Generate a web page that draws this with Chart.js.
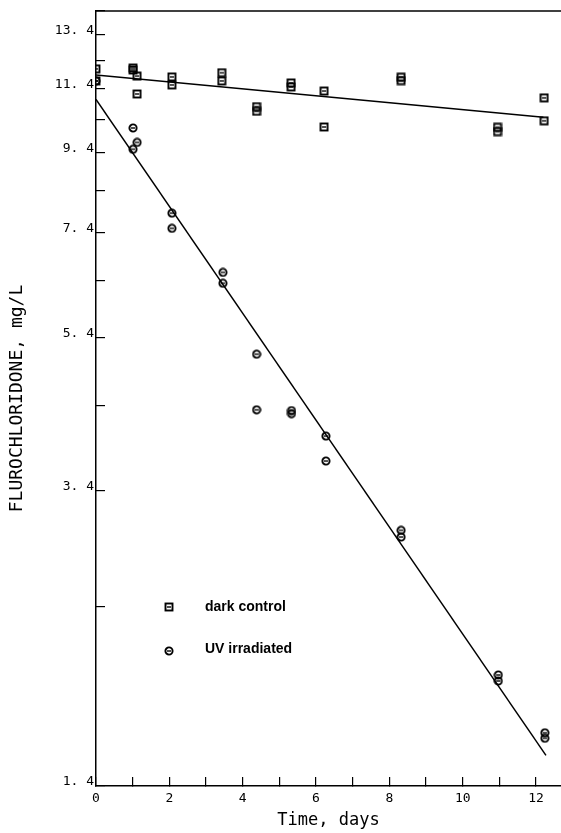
<!DOCTYPE html>
<html>
<head>
<meta charset="utf-8">
<title>Flurochloridone</title>
<script src="https://cdn.jsdelivr.net/npm/chart.js@4.4.0/dist/chart.umd.min.js"></script>
<style>
  html, body { margin: 0; padding: 0; background: #fff; }
  #wrap { width: 561px; height: 833px; }
</style>
</head>
<body>
<div id="wrap"><canvas id="chart"></canvas></div>
<script>
// values: time (days) and concentration (mg/L)
const darkDays = [0, 0, 1.01, 1.01, 1.12, 1.12, 2.07, 2.07, 3.43, 3.43, 4.38, 4.38, 5.32, 5.32, 6.22, 6.22, 8.32, 8.32, 10.95, 10.95, 12.22, 12.22];
const darkValues = [12.1, 11.67, 12.13, 12.06, 11.84, 11.22, 11.81, 11.53, 11.96, 11.67, 10.8, 10.65, 11.6, 11.46, 11.32, 10.16, 11.8, 11.68, 10.15, 10.02, 11.09, 10.35];
const uvDays = [0, 1.01, 1.01, 1.12, 2.07, 2.07, 3.46, 3.46, 4.38, 4.38, 5.33, 5.33, 6.27, 6.27, 8.32, 8.32, 10.97, 10.97, 12.24, 12.24];
const uvValues = [11.67, 10.13, 9.5, 9.7, 7.84, 7.49, 6.56, 6.35, 5.13, 4.34, 4.33, 4.29, 4.01, 3.72, 3.02, 2.96, 1.955, 1.92, 1.643, 1.616];

// fitted first-order lines (end points)
const darkFitDays = [0, 12.2];
const darkFitValues = [11.88, 10.46];
const uvFitDays = [0, 12.27];
const uvFitValues = [11.04, 1.535];

const xTickValues = [0, 1, 2, 3, 4, 5, 6, 7, 8, 9, 10, 11, 12];
const xTickLabels = ['0', '', '2', '', '4', '', '6', '', '8', '', '10', '', '12'];
const yTickValues = [1.4, 2.4, 3.4, 4.4, 5.4, 6.4, 7.4, 8.4, 9.4, 10.4, 11.4, 12.4, 13.4, 14.4];
const yTickLabels = ['1. 4', '', '3. 4', '', '5. 4', '', '7. 4', '', '9. 4', '', '11. 4', '', '13. 4', ''];

const legendNames = ['dark control', 'UV irradiated'];

function zip(xs, ys) {
  return xs.map((x, i) => ({ x: x, y: ys[i] }));
}

// little plotter style symbols
function marker(kind) {
  const c = document.createElement('canvas');
  c.width = 10; c.height = 10;
  const g = c.getContext('2d');
  g.strokeStyle = '#000';
  g.lineWidth = 1.9;
  if (kind === 'square') {
    g.strokeRect(1.5, 1.5, 7, 7);
  } else {
    g.beginPath();
    g.arc(5, 5, 3.6, 0, Math.PI * 2);
    g.stroke();
  }
  g.lineWidth = 1.4;
  g.beginPath();
  g.moveTo(3, 5); g.lineTo(7, 5);
  g.stroke();
  return c;
}
const squareMark = marker('square');
const circleMark = marker('circle');

const frame = {
  id: 'frame',
  beforeDraw(chart) {
    const ctx = chart.ctx;
    ctx.save();
    ctx.fillStyle = '#fff';
    ctx.fillRect(0, 0, chart.width, chart.height);
    ctx.restore();
  },
  afterDraw(chart) {
    const ctx = chart.ctx;
    const a = chart.chartArea;
    ctx.save();
    // top border
    ctx.strokeStyle = '#000';
    ctx.lineWidth = 1.5;
    ctx.beginPath();
    ctx.moveTo(a.left, a.top);
    ctx.lineTo(a.right, a.top);
    ctx.stroke();
    // legend inside the plot
    const marks = [squareMark, circleMark];
    const rows = [607, 651];
    ctx.fillStyle = '#000';
    ctx.font = 'bold 14px "Liberation Sans", Arial, sans-serif';
    ctx.textBaseline = 'middle';
    legendNames.forEach((name, i) => {
      ctx.drawImage(marks[i], a.left + 73 - 5, rows[i] - 5);
      ctx.fillText(name, a.left + 109, rows[i] - (i ? 2 : 0));
    });
    ctx.restore();
  }
};

const ctx = document.getElementById('chart').getContext('2d');
new Chart(ctx, {
  type: 'scatter',
  data: {
    datasets: [
      {
        label: legendNames[0],
        data: zip(darkDays, darkValues),
        pointStyle: squareMark,
        pointRadius: 5,
        order: 1
      },
      {
        label: legendNames[1],
        data: zip(uvDays, uvValues),
        pointStyle: circleMark,
        pointRadius: 5,
        order: 1
      },
      {
        label: 'dark fit',
        data: zip(darkFitDays, darkFitValues),
        showLine: true,
        pointRadius: 0,
        borderColor: '#000',
        borderWidth: 1.5,
        order: 2
      },
      {
        label: 'uv fit',
        data: zip(uvFitDays, uvFitValues),
        showLine: true,
        pointRadius: 0,
        borderColor: '#000',
        borderWidth: 1.5,
        order: 2
      }
    ]
  },
  options: {
    responsive: true,
    maintainAspectRatio: false,
    animation: false,
    layout: { autoPadding: false, padding: { top: 11, right: 0, bottom: 0, left: 0 } },
    plugins: {
      legend: { display: false },
      tooltip: { enabled: false }
    },
    scales: {
      x: {
        type: 'linear',
        min: 0,
        max: 12.68,
        afterBuildTicks: axis => { axis.ticks = xTickValues.map(v => ({ value: v })); },
        afterFit: axis => {
          axis.height = 47;
          axis.paddingLeft = 0;
          axis.paddingRight = 0;
        },
        border: { display: true, color: '#000', width: 1.5 },
        grid: { drawOnChartArea: false, drawTicks: true, tickLength: -9, color: '#000', lineWidth: 1.2 },
        ticks: {
          padding: 14,
          color: '#000',
          font: { family: '"DejaVu Sans Mono", monospace', size: 13 },
          maxRotation: 0,
          autoSkip: false,
          callback: (v, i) => xTickLabels[i]
        },
        title: {
          display: true,
          text: 'Time, days',
          color: '#000',
          font: { family: '"DejaVu Sans Mono", monospace', size: 17 },
          padding: { top: 0, bottom: 2 }
        }
      },
      y: {
        type: 'logarithmic',
        min: 1.4,
        max: 14.4,
        afterBuildTicks: axis => { axis.ticks = yTickValues.map(v => ({ value: v })); },
        afterFit: axis => {
          axis.width = 96;
          axis.paddingTop = 0;
          axis.paddingBottom = 0;
        },
        border: { display: true, color: '#000', width: 1.5 },
        grid: { drawOnChartArea: false, drawTicks: true, tickLength: -9, color: '#000', lineWidth: 1.2 },
        ticks: {
          padding: 11,
          labelOffset: -4,
          color: '#000',
          font: { family: '"DejaVu Sans Mono", monospace', size: 13 },
          autoSkip: false,
          callback: (v, i) => yTickLabels[i]
        },
        title: {
          display: true,
          text: 'FLUROCHLORIDONE, mg/L',
          color: '#000',
          font: { family: '"DejaVu Sans Mono", monospace', size: 18 },
          padding: { top: 7, bottom: 0 }
        }
      }
    }
  },
  plugins: [frame]
});
</script>
</body>
</html>
